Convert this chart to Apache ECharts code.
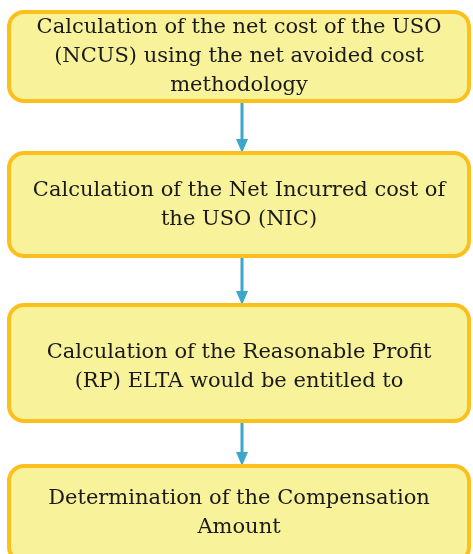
<!DOCTYPE html>
<html>
<head>
<meta charset="utf-8">
<script src="https://cdn.jsdelivr.net/npm/echarts@6/dist/echarts.min.js"></script>
<style>html,body{margin:0;padding:0;background:#fff}#c{width:473px;height:554px}</style>
</head>
<body>
<div id="c"></div>
<script>
const steps = [
  "Calculation of the net cost of the USO\n(NCUS) using the net avoided cost\nmethodology",
  "Calculation of the Net Incurred cost of\nthe USO (NIC)",
  "Calculation of the Reasonable Profit\n(RP) ELTA would be entitled to",
  "Determination of the Compensation\nAmount"
];
const boxTop = [12, 153, 305, 466];
const boxBottom = [101, 256, 421, 562];

const chart = echarts.init(document.getElementById('c'));
const FILL = '#F8F29B', BORDER = '#FDBF1B', ARROW = '#3AA7CB';
const X0 = 9, X1 = 469, AX = 242;
const textShift = [0, 1, 4, 3];

chart.setOption({
  animation: false,
  grid: {left: 0, right: 0, top: 0, bottom: 0},
  xAxis: {type: 'value', min: 0, max: 473, show: false},
  yAxis: {type: 'value', min: 0, max: 554, inverse: true, show: false},
  series: [{
    type: 'custom',
    clip: false,
    data: steps.map((s, i) => [i, boxTop[i], boxBottom[i]]),
    renderItem: function (params, api) {
      const i = api.value(0);
      const p0 = api.coord([X0, api.value(1)]);
      const p1 = api.coord([X1, api.value(2)]);
      const children = [{
        type: 'rect',
        shape: {x: p0[0], y: p0[1], width: p1[0] - p0[0], height: p1[1] - p0[1], r: 15},
        style: {fill: FILL, stroke: BORDER, lineWidth: 4}
      }, {
        type: 'text',
        style: {
          text: steps[i], x: (p0[0] + p1[0]) / 2, y: (p0[1] + Math.min(p1[1], 554)) / 2 + textShift[i],
          align: 'center', verticalAlign: 'middle',
          font: '21px "DejaVu Serif"', lineHeight: 29, fill: '#1a1a1a'
        }
      }];
      if (i < steps.length - 1) {
        const a = api.coord([AX, boxBottom[i]]);
        const b = api.coord([AX, boxTop[i + 1]]);
        children.push({
          type: 'line',
          shape: {x1: a[0], y1: a[1] + 2, x2: b[0], y2: b[1] - 12},
          style: {stroke: ARROW, lineWidth: 3}
        }, {
          type: 'polygon',
          shape: {points: [[b[0] - 6, b[1] - 14], [b[0] + 6, b[1] - 14], [b[0], b[1]]]},
          style: {fill: ARROW}
        });
      }
      return {type: 'group', children: children};
    }
  }]
});
</script>
</body>
</html>
